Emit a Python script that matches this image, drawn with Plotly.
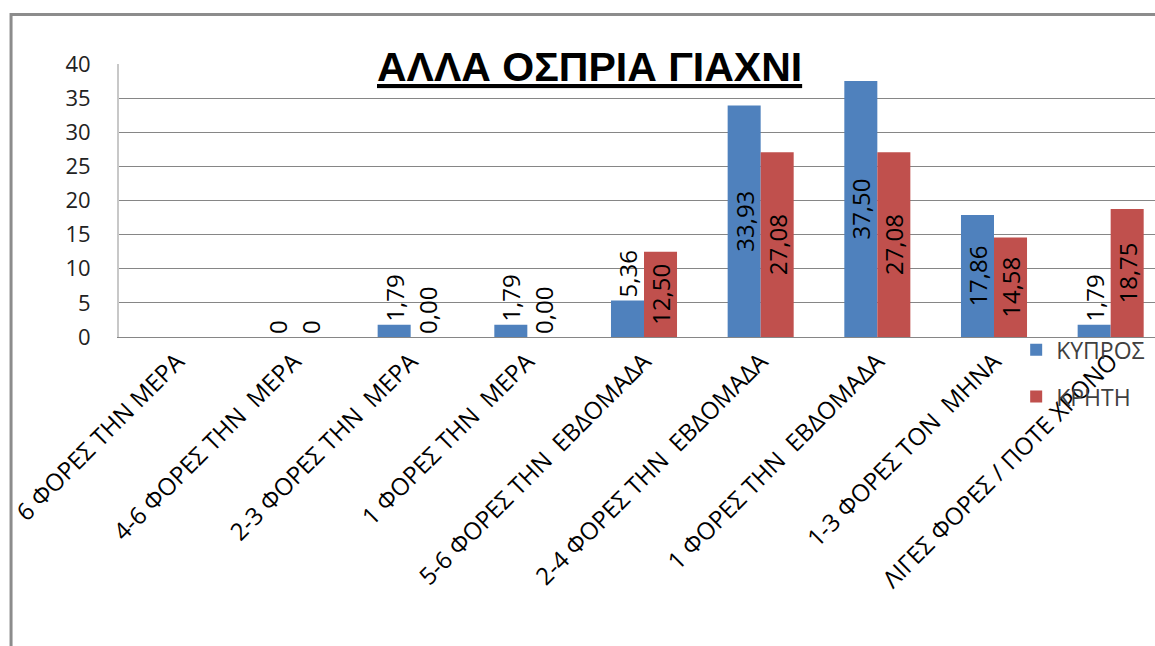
import plotly.graph_objects as go

# Frequency categories (x axis)
categories = [
    "6 ΦΟΡΕΣ ΤΗΝ ΜΕΡΑ",
    "4-6 ΦΟΡΕΣ ΤΗΝ\u00a0\u00a0ΜΕΡΑ",
    "2-3 ΦΟΡΕΣ ΤΗΝ\u00a0\u00a0ΜΕΡΑ",
    "1 ΦΟΡΕΣ ΤΗΝ\u00a0\u00a0ΜΕΡΑ",
    "5-6 ΦΟΡΕΣ ΤΗΝ\u00a0\u00a0ΕΒΔΟΜΑΔΑ",
    "2-4 ΦΟΡΕΣ ΤΗΝ\u00a0\u00a0ΕΒΔΟΜΑΔΑ",
    "1 ΦΟΡΕΣ ΤΗΝ\u00a0\u00a0ΕΒΔΟΜΑΔΑ",
    "1-3 ΦΟΡΕΣ ΤΟΝ\u00a0\u00a0ΜΗΝΑ",
    "ΛΙΓΕΣ ΦΟΡΕΣ / ΠΟΤΕ ΧΡΟΝΟ",
]

# Percentages per region
kypros = [None, 0, 1.79, 1.79, 5.36, 33.93, 37.50, 17.86, 1.79]
kriti = [None, 0, 0.00, 0.00, 12.50, 27.08, 27.08, 14.58, 18.75]

# Decimal places shown in each category's value labels
label_decimals = [2, 0, 2, 2, 2, 2, 2, 2, 2]

y_ticks = [0, 5, 10, 15, 20, 25, 30, 35, 40]

BLUE = "#4F81BD"
RED = "#C0504D"
GRID = "#868686"


def fmt(v, d):
    return "" if v is None else f"{v:.{d}f}".replace(".", ",")


def positions(values):
    return ["inside" if (v is not None and v >= 10) else "outside" for v in values]


fig = go.Figure()
for name, vals, color, group in [("ΚΥΠΡΟΣ", kypros, BLUE, "a"), ("ΚΡΗΤΗ", kriti, RED, "b")]:
    fig.add_trace(go.Bar(
        name=name,
        x=categories,
        y=vals,
        marker=dict(color=color, line=dict(width=0)),
        text=[fmt(v, d) for v, d in zip(vals, label_decimals)],
        textposition=positions(vals),
        textangle=-90,
        insidetextanchor="middle",
        constraintext="none",
        textfont=dict(family="Open Sans", size=24, color="black"),
        cliponaxis=False,
        legendgroup=group,
    ))

fig.update_layout(
    width=1155,
    height=646,
    margin=dict(l=119, r=0, t=64, b=309),
    paper_bgcolor="white",
    plot_bgcolor="white",
    barmode="group",
    bargap=0.434,
    bargroupgap=0,
    showlegend=True,
    legend=dict(
        x=0.866, y=0.032, xanchor="left", yanchor="top",
        font=dict(family="Open Sans", size=23, color="#404040"),
        bgcolor="rgba(0,0,0,0)",
        tracegroupgap=14,
        itemwidth=30,
    ),
    xaxis=dict(
        type="category",
        range=[-0.5, 8.38],
        tickangle=-45,
        tickfont=dict(family="Open Sans", size=24, color="black"),
        showline=True,
        linecolor=GRID,
        linewidth=1,
        showgrid=False,
        ticks="",
    ),
    yaxis=dict(
        range=[0, 40],
        tickvals=y_ticks,
        tickfont=dict(family="Open Sans", size=22, color="#222222"),
        showgrid=True,
        gridcolor=GRID,
        gridwidth=1,
        zeroline=False,
        showline=True,
        linecolor="#c8c8c8",
        linewidth=2,
        ticks="",
        ticklabelstandoff=22,
    ),
    annotations=[dict(
        text="<b><u>ΑΛΛΑ ΟΣΠΡΙΑ ΓΙΑΧΝΙ</u></b>",
        xref="paper", yref="paper",
        x=0.4546, y=0.99,
        xanchor="center", yanchor="middle",
        showarrow=False,
        font=dict(family="Liberation Sans", size=41, color="black"),
    )],
    shapes=[dict(
        type="rect", xref="paper", yref="paper",
        x0=-0.1042, y0=-1.4, x1=1.2, y1=1.181,
        line=dict(color="#8c8c8c", width=3),
        fillcolor="rgba(0,0,0,0)",
        layer="below",
    )],
)

fig.write_html("out.html")
